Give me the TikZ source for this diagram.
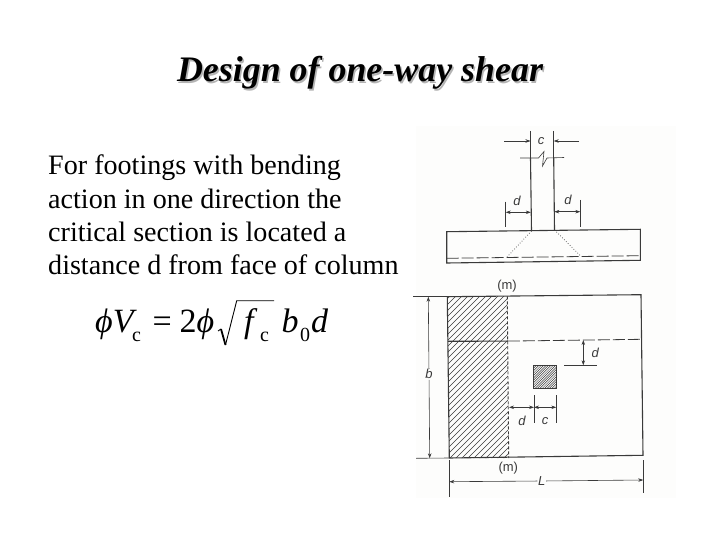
\documentclass[tikz,border=0pt]{standalone}
\usepackage{fontspec}
\setmainfont{Liberation Serif}
\setsansfont{Liberation Sans}
\usetikzlibrary{arrows.meta}
\definecolor{ink}{HTML}{3A3A3A}
\definecolor{shadowgray}{HTML}{B4B4B4}
\definecolor{imgback}{HTML}{FDFDFC}
\tikzset{
  x=1pt,y=-1pt,
  txt/.style={anchor=base west,inner sep=0pt,font=\fontsize{28.1}{28.1}\selectfont},
  ttl/.style={anchor=base,inner sep=0pt,font=\fontsize{35.9}{35.9}\selectfont\bfseries\itshape},
  eq/.style={anchor=base west,inner sep=0pt,font=\fontsize{34}{34}\selectfont},
  eqsub/.style={anchor=base west,inner sep=0pt,font=\fontsize{20}{20}\selectfont},
  lab/.style={inner sep=0.5pt,text=ink,font=\sffamily\itshape\fontsize{13}{13}\selectfont},
  up/.style={inner sep=0pt,text=ink,font=\sffamily\fontsize{13}{13}\selectfont},
  thick line/.style={draw=ink,line width=1.1pt},
  thin line/.style={draw=ink,line width=0.6pt},
  dim/.style={draw=ink,line width=0.6pt,-{Stealth[length=5pt,width=3.5pt]}},
  dimboth/.style={draw=ink,line width=0.6pt,{Stealth[length=5pt,width=3.5pt]}-{Stealth[length=5pt,width=3.5pt]}},
  hatch/.style={draw=ink,line width=0.5pt},
}
\begin{document}
\begin{tikzpicture}
\useasboundingbox (0,0) rectangle (720,540);
\fill[white] (0,0) rectangle (720,540);
\fill[imgback] (416,126) rectangle (676,498);
% title
\node[ttl,text=shadowgray] at (361.5,83.5) {Design of one-way shear};
\node[ttl] (title) at (360,82) {Design of one-way shear};
% body text
\node[txt] (l1) at (48,175) {For footings with bending};
\node[txt] (l2) at (48,208) {action in one direction the};
\node[txt] (l3) at (48,241) {critical section is located a};
\node[txt] (l4) at (48,274) {distance d from face of column};
% equation
\node[eq] (e1) at (95,332) {\itshape ϕV};
\node[eqsub] (e2) at (132,341.5) {c};
\node[eq] (e3) at (152.5,332) {=};
\node[eq] (e4) at (179.5,332) {2\itshape ϕ};
\node[eq] (e5) at (244,332) {\itshape f};
\node[eqsub] (e6) at (260,341.5) {c};
\node[eq] (e7) at (281.5,332) {\itshape b};
\node[eqsub] (e8) at (300,341.5) {0};
\node[eq] (e9) at (311,332) {\itshape d};
\draw[line width=0.9pt] (218,331) -- (221,329);
\draw[line width=1.8pt] (221,329) -- (225.5,345);
\draw[line width=0.9pt] (225.5,345) -- (236.7,300.7) -- (274,300.7);
% column
\coordinate (cl) at (530.5,158);
\coordinate (cr) at (553.7,158);
\coordinate (clb) at (531.5,231);
\coordinate (crb) at (554.5,230);
\draw[thick line] (cl) -- (clb);
\draw[thick line] (cr) -- (crb);
\draw[thin line] (520,158) -- (538.5,158) -- (544,151.5) -- (542.5,166) -- (547,158) -- (564,157.5);
% c dimension
\draw[thin line] (530.5,131) -- (cl);
\draw[thin line] (553.7,131) -- (cr);
\node[lab] (cT) at (541,141) {c};
\draw[dim] (504,141) -- (530.5,141);
\draw[dim] (579,141) -- (553.7,141);
% d dimensions
\draw[thin line] (505.7,201.7) -- (505.7,226.7);
\draw[thin line] (580.3,200) -- (580.3,226.7);
\draw[dimboth] (505.7,212.3) -- (530.8,212.3);
\draw[dimboth] (554.3,211.7) -- (580.3,211.7);
\node[lab] (dL) at (517,201) {d};
\node[lab] (dR) at (568,199.7) {d};
% footing
\coordinate (f1) at (446.7,231.7);
\coordinate (f2) at (640.3,229.3);
\coordinate (f3) at (640.3,260.3);
\coordinate (f4) at (446.7,263);
\draw[thick line] (f1) -- (f2) -- (f3) -- (f4) -- cycle;
\draw[draw=ink,line width=0.8pt,dash pattern=on 12pt off 3pt] (446.7,258.3) -- (640.3,255.7);
\draw[draw=ink,line width=0.7pt,dotted] (clb) -- (507,257);
\draw[draw=ink,line width=0.7pt,dotted] (crb) -- (580.7,256);
\node[up] (m1) at (507,285.7) {(m)};
% hatching of the strip
\begin{scope}
\clip (447.3,296.7) -- (507.3,296) -- (508.7,458) -- (449.3,458) -- cycle;
\foreach \k in {0,6,...,240} {
  \draw[hatch] (\k+270,470) -- (\k+270+190,280);
}
\end{scope}
% hatching of the column
\begin{scope}
\clip (533.7,365.7) rectangle (556.3,388.3);
\foreach \k in {0,2.4,...,50} {
  \draw[hatch] (\k+505,392) -- (\k+505+30,362);
}
\end{scope}
\draw[draw=ink,line width=1.4pt] (533.7,365.7) rectangle (556.3,388.3);
% plate
\coordinate (p1) at (447.3,296.7);
\coordinate (p2) at (641,294.7);
\coordinate (p3) at (643,455.3);
\coordinate (p4) at (449.3,458);
\draw[thick line] (p1) -- (p2) -- (p3) -- (p4) -- cycle;
\draw[draw=ink,line width=0.9pt,densely dashed] (507.3,296.4) -- (508.7,458);
\draw[thick line] (447.9,341.3) -- (507.8,341.1);
\draw[draw=ink,line width=0.8pt,dash pattern=on 12pt off 3pt] (507.8,341.1) -- (641.5,339.3);
\node[up] (m2) at (508.3,468.3) {(m)};
% b dimension
\draw[thin line] (413.3,296.7) -- (p1);
\draw[thin line] (416,458.3) -- (p4);
\node[lab] (bL) at (429,374.3) {b};
\coordinate (bt) at (428.3,296.7);
\coordinate (bb) at (429.7,458.3);
\draw[dim] (bL) -- (bt);
\draw[dim] (bL) -- (bb);
% d vertical
\coordinate (dvt) at (583.3,340);
\coordinate (dvb) at (583.3,365.3);
\draw[thin line] (564.3,365.3) -- (596.7,365.3);
\draw[dimboth] (dvt) -- (dvb);
\node[lab] (dV) at (595.3,353.3) {d};
% d and c below the column
\draw[thin line] (534,395) -- (534,423.3);
\draw[thin line] (556.3,395) -- (556.3,423.3);
\draw[dimboth] (509,407.3) -- (534,407.3);
\draw[dimboth] (534,407.3) -- (556.3,407.3);
\node[lab] (dH) at (522,420.7) {d};
\node[lab] (cH) at (545,420.7) {c};
% L dimension
\draw[thin line] (449.3,460) -- (449.3,496.7);
\draw[thin line] (643.3,460) -- (643.3,493.3);
\node[lab] (Lb) at (541.7,481) {L};
\coordinate (La) at (449.3,481.7);
\coordinate (Lc) at (643.3,480);
\draw[dim] (Lb) -- (La);
\draw[dim] (Lb) -- (Lc);
\end{tikzpicture}
\end{document}
